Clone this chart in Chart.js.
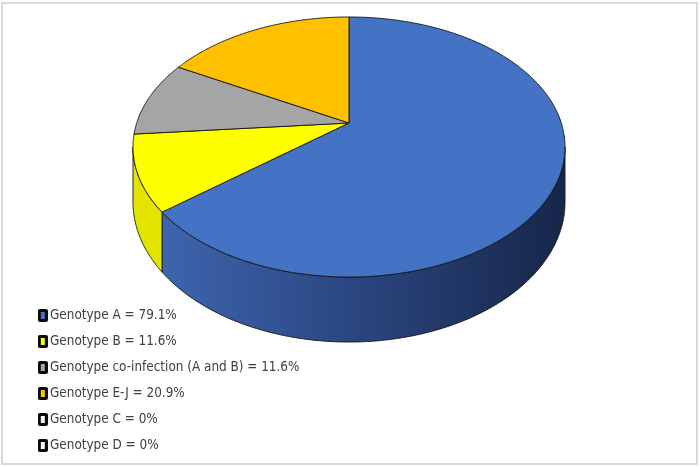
<!DOCTYPE html>
<html>
<head>
<meta charset="utf-8">
<title>Genotype distribution</title>
<script src="https://cdn.jsdelivr.net/npm/chart.js@4.4.1/dist/chart.umd.min.js"></script>
<style>
  html, body { margin: 0; padding: 0; background: #ffffff; }
  #wrap { width: 700px; height: 467px; }
</style>
</head>
<body>
<div id="wrap"><canvas id="c" width="700" height="467"></canvas></div>
<script>
// Genotype shares (%)
const categories = [
  'Genotype A',
  'Genotype B',
  'Genotype co-infection (A and B)',
  'Genotype E-J',
  'Genotype C',
  'Genotype D'
];
const shares = [79.1, 11.6, 11.6, 20.9, 0, 0];

// Slice colours (top face) and the darker tones used for the pie's rim
const topColors = ['#4472C4', '#FFFF00', '#A5A5A5', '#FFC000', '#FFFFFF', '#FFFFFF'];
const rimColors = [
  ['#4169B6', '#2B4781', '#17264A'],
  ['#E4E400', '#DADA00', '#CFCF00'],
  ['#8A8A8A', '#7A7A7A', '#6A6A6A'],
  ['#D9A300', '#C49300', '#AA8000'],
  ['#DDDDDD', '#DDDDDD', '#DDDDDD'],
  ['#DDDDDD', '#DDDDDD', '#DDDDDD']
];

// Tilted-disc projection used for the 3-D pie
const DISC = { cx: 349, cy: 123, rx: 212.3, ry: 125.6, tilt: 0.1846, depth: 53 };

function project(angle, lowered) {
  const X = Math.cos(angle), Y = Math.sin(angle);
  const s = 1 / (1 - DISC.tilt * Y);
  return [DISC.cx + DISC.rx * X * s, DISC.cy + DISC.ry * Y * s + (lowered ? DISC.depth * s : 0)];
}

function rimPath(ctx, a0, a1, lowered, first) {
  const n = Math.max(2, Math.ceil(Math.abs(a1 - a0) * 120));
  for (let i = 0; i <= n; i++) {
    const p = project(a0 + (a1 - a0) * i / n, lowered);
    if (i === 0 && first) ctx.moveTo(p[0], p[1]); else ctx.lineTo(p[0], p[1]);
  }
}

const pie3d = {
  id: 'pie3d',
  beforeDraw(chart) {
    const ctx = chart.ctx;
    ctx.save();
    ctx.fillStyle = '#ffffff';
    ctx.fillRect(0, 0, chart.width, chart.height);
    ctx.strokeStyle = '#D9D9D9';
    ctx.lineWidth = 2;
    ctx.strokeRect(2, 3, chart.width - 5, chart.height - 6);
    ctx.restore();
  },
  beforeDatasetsDraw(chart) {
    const ctx = chart.ctx;
    const arcs = chart.getDatasetMeta(0).data;
    const visA = Math.asin(DISC.tilt);
    const visB = Math.PI - visA;
    ctx.save();
    ctx.lineJoin = 'round';
    // rim walls (front half only)
    arcs.forEach((arc, i) => {
      const { startAngle, endAngle } = arc.getProps(['startAngle', 'endAngle'], true);
      const lo = Math.max(startAngle, visA), hi = Math.min(endAngle, visB);
      if (hi <= lo) return;
      const left = project(visB, false)[0], right = project(visA, false)[0];
      const grad = ctx.createLinearGradient(left, 0, right, 0);
      grad.addColorStop(0, rimColors[i][0]);
      grad.addColorStop(0.5, rimColors[i][1]);
      grad.addColorStop(1, rimColors[i][2]);
      ctx.beginPath();
      rimPath(ctx, lo, hi, false, true);
      rimPath(ctx, hi, lo, true, false);
      ctx.closePath();
      ctx.fillStyle = grad;
      ctx.fill();
      ctx.strokeStyle = '#141414';
      ctx.lineWidth = 0.9;
      ctx.stroke();
    });
    // top faces
    arcs.forEach((arc, i) => {
      const { startAngle, endAngle } = arc.getProps(['startAngle', 'endAngle'], true);
      if (endAngle - startAngle <= 0) return;
      ctx.beginPath();
      ctx.moveTo(DISC.cx, DISC.cy);
      rimPath(ctx, startAngle, endAngle, false, false);
      ctx.closePath();
      ctx.fillStyle = topColors[i];
      ctx.fill();
      ctx.strokeStyle = '#141414';
      ctx.lineWidth = 0.9;
      ctx.stroke();
    });
    ctx.restore();
    return false;
  }
};

// Legend marker: dark frame with the slice colour inside
function marker(color) {
  const c = document.createElement('canvas');
  c.width = 10; c.height = 13;
  const g = c.getContext('2d');
  g.fillStyle = '#0a0a0a';
  g.beginPath();
  g.roundRect(0, 0, 10, 13, 2);
  g.fill();
  g.fillStyle = color;
  g.fillRect(3, 3, 4, 7);
  return c;
}

new Chart(document.getElementById('c'), {
  type: 'pie',
  data: {
    labels: categories,
    datasets: [{
      data: shares,
      backgroundColor: topColors,
      borderWidth: 0
    }]
  },
  options: {
    responsive: false,
    animation: false,
    events: [],
    layout: { padding: { left: 29.7, right: 0, top: 0, bottom: 2.2 } },
    plugins: {
      tooltip: { enabled: false },
      legend: {
        position: 'chartArea',
        align: 'end',
        onClick: null,
        labels: {
          usePointStyle: true,
          pointStyleWidth: 1,
          padding: 12.6,
          color: '#404040',
          font: { family: "'DejaVu Sans Condensed', 'Liberation Sans', sans-serif", size: 13.4 },
          generateLabels(chart) {
            return categories.map((name, i) => ({
              text: name + ' = ' + shares[i] + '%',
              pointStyle: marker(topColors[i]),
              fillStyle: topColors[i],
              strokeStyle: '#000000',
              lineWidth: 0,
              fontColor: '#404040',
              hidden: false,
              index: i
            }));
          }
        }
      }
    }
  },
  plugins: [pie3d]
});
</script>
</body>
</html>
